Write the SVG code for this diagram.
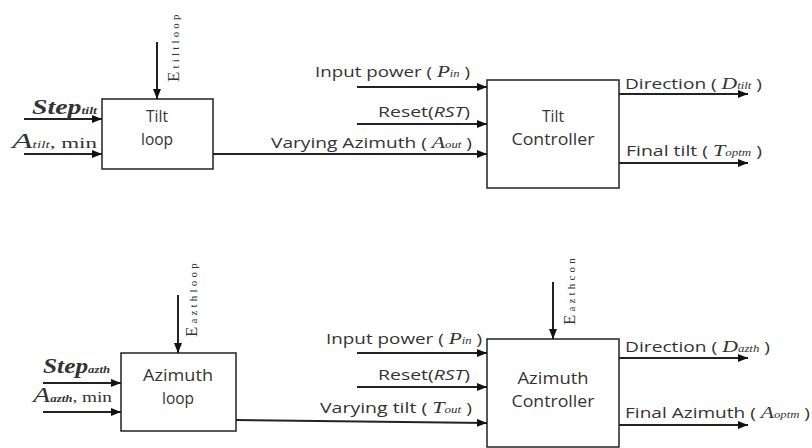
<svg xmlns="http://www.w3.org/2000/svg" width="812" height="448" viewBox="0 0 812 448">
<defs>
<marker id="ah" viewBox="0 0 10 8" refX="10" refY="4" markerWidth="10" markerHeight="8" markerUnits="userSpaceOnUse" orient="auto">
<path d="M0,0 L10,4 L0,8 z" fill="#111"/>
</marker>
<style>
.box{fill:#fff;stroke:#222;stroke-width:1.5}
.ln{fill:none;stroke:#222;stroke-width:2;marker-end:url(#ah)}
.lbl{font-family:"Open Sans","Liberation Sans",sans-serif;font-size:15px;fill:#333}
.bt{font-family:"Open Sans","Liberation Sans",sans-serif;font-size:15.5px;fill:#333;text-anchor:middle}
.m{font-family:"Liberation Serif",serif;font-style:italic;font-size:17px}
.s{font-family:"Liberation Serif",serif;font-style:italic;font-size:10px}
.big{font-family:"Liberation Serif",serif;font-style:italic;font-weight:bold;font-size:20px;fill:#333}
.bigA{font-family:"Liberation Serif",serif;font-style:italic;font-size:22px;fill:#333}
.sb{font-family:"Liberation Serif",serif;font-style:italic;font-size:10px;font-weight:bold}
.rm{font-family:"Liberation Serif",serif;font-size:15px;fill:#333}
.E{font-family:"Liberation Serif",serif;font-size:17px;fill:#333}
.Es{font-family:"Liberation Serif",serif;font-size:11px;letter-spacing:3.2px;fill:#333}
</style>
</defs>

<g id="tilt-loop">
<rect class="box" x="102" y="99" width="111" height="70"/>
<text class="bt" x="157" y="122">Tilt</text>
<text class="bt" x="157" y="145">loop</text>
</g>

<g id="tilt-controller">
<rect class="box" x="487" y="80" width="132" height="108"/>
<text class="bt" x="553" y="122">Tilt</text>
<text class="bt" x="553" y="145" textLength="83" lengthAdjust="spacingAndGlyphs">Controller</text>
</g>

<g id="azimuth-loop">
<rect class="box" x="121" y="353" width="115" height="78"/>
<text class="bt" x="178" y="381" textLength="70" lengthAdjust="spacingAndGlyphs">Azimuth</text>
<text class="bt" x="178" y="404">loop</text>
</g>

<g id="azimuth-controller">
<rect class="box" x="487" y="339" width="132" height="108"/>
<text class="bt" x="553" y="384" textLength="71" lengthAdjust="spacingAndGlyphs">Azimuth</text>
<text class="bt" x="553" y="407" textLength="83" lengthAdjust="spacingAndGlyphs">Controller</text>
</g>

<g id="connectors">
<line class="ln" x1="157" y1="42" x2="157" y2="99"/>
<line class="ln" x1="24" y1="119" x2="102" y2="119"/>
<line class="ln" x1="24" y1="154" x2="102" y2="154"/>
<line class="ln" x1="213" y1="154" x2="487" y2="154"/>
<line class="ln" x1="357" y1="87" x2="487" y2="87"/>
<line class="ln" x1="357" y1="124" x2="487" y2="124"/>
<line class="ln" x1="619" y1="94" x2="748" y2="94"/>
<line class="ln" x1="619" y1="163" x2="748" y2="163"/>

<line class="ln" x1="178" y1="295" x2="178" y2="353"/>
<line class="ln" x1="43" y1="383" x2="121" y2="383"/>
<line class="ln" x1="43" y1="412" x2="121" y2="412"/>
<path class="ln" d="M236,420 L487,423"/>
<line class="ln" x1="357" y1="353" x2="487" y2="353"/>
<line class="ln" x1="357" y1="387" x2="487" y2="387"/>
<line class="ln" x1="553" y1="282" x2="553" y2="339"/>
<line class="ln" x1="619" y1="358" x2="748" y2="358"/>
<line class="ln" x1="619" y1="425" x2="748" y2="425"/>
</g>

<g id="labels">
<text transform="translate(179,82) rotate(-90)"><tspan class="E">E</tspan><tspan class="Es" dx="3">tiltloop</tspan></text>
<text class="big" x="32" y="114" textLength="65" lengthAdjust="spacingAndGlyphs">Step<tspan class="sb">tilt</tspan></text>
<text x="12" y="148" textLength="85" lengthAdjust="spacingAndGlyphs"><tspan class="bigA">A</tspan><tspan class="s" font-size="11" fill="#333">tilt</tspan><tspan class="rm">, min</tspan></text>

<text class="lbl" x="315" y="77" textLength="155" lengthAdjust="spacingAndGlyphs">Input power ( <tspan class="m">P</tspan><tspan class="s">in</tspan> )</text>
<text class="lbl" x="378" y="117" textLength="92" lengthAdjust="spacingAndGlyphs">Reset(<tspan font-style="italic">RST</tspan>)</text>
<text class="lbl" x="271" y="148" textLength="201" lengthAdjust="spacingAndGlyphs">Varying Azimuth ( <tspan class="m">A</tspan><tspan class="s">out</tspan> )</text>
<text class="lbl" x="625" y="89" textLength="137" lengthAdjust="spacingAndGlyphs">Direction ( <tspan class="m">D</tspan><tspan class="s">tilt</tspan> )</text>
<text class="lbl" x="626" y="156" textLength="136" lengthAdjust="spacingAndGlyphs">Final tilt ( <tspan class="m">T</tspan><tspan class="s">optm</tspan>  )</text>

<text transform="translate(197,337) rotate(-90)"><tspan class="E">E</tspan><tspan class="Es" dx="3">azthloop</tspan></text>
<text class="big" x="43" y="373" textLength="67" lengthAdjust="spacingAndGlyphs">Step<tspan class="sb">azth</tspan></text>
<text x="33" y="402" textLength="79" lengthAdjust="spacingAndGlyphs"><tspan class="bigA">A</tspan><tspan class="s" font-size="11" font-weight="bold" fill="#333">azth</tspan><tspan class="rm">, min</tspan></text>

<text class="lbl" x="326" y="344" textLength="156" lengthAdjust="spacingAndGlyphs">Input power ( <tspan class="m">P</tspan><tspan class="s">in</tspan> )</text>
<text class="lbl" x="378" y="380" textLength="92" lengthAdjust="spacingAndGlyphs">Reset(<tspan font-style="italic">RST</tspan>)</text>
<text class="lbl" x="320" y="413" textLength="152" lengthAdjust="spacingAndGlyphs">Varying tilt ( <tspan class="m">T</tspan><tspan class="s">out</tspan> )</text>
<text transform="translate(575,325) rotate(-90)"><tspan class="E">E</tspan><tspan class="Es" dx="3">azthcon</tspan></text>
<text class="lbl" x="625" y="352" textLength="145" lengthAdjust="spacingAndGlyphs">Direction ( <tspan class="m">D</tspan><tspan class="s">azth</tspan> )</text>
<text class="lbl" x="625" y="418" textLength="185" lengthAdjust="spacingAndGlyphs">Final Azimuth ( <tspan class="m">A</tspan><tspan class="s">optm</tspan> )</text>
</g>
</svg>
